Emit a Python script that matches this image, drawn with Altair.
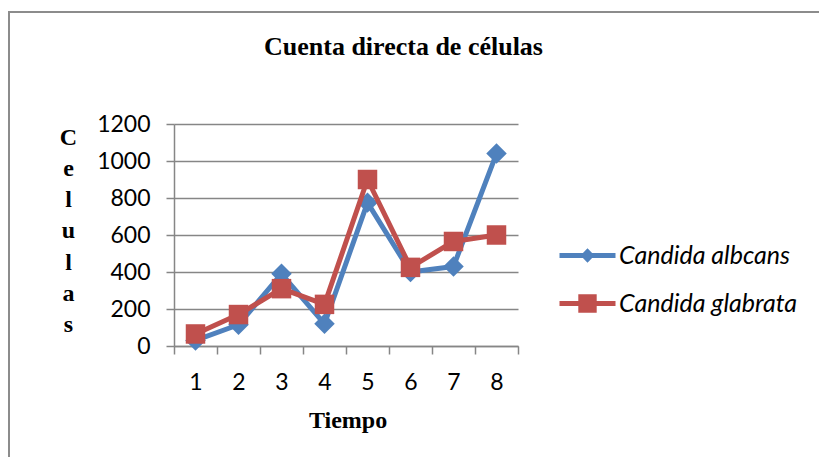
import altair as alt
import pandas as pd

# --- data -------------------------------------------------------------
tiempo = [1, 2, 3, 4, 5, 6, 7, 8]
candida_albicans = [30, 115, 390, 120, 775, 400, 430, 1040]
candida_glabrata = [65, 170, 310, 225, 900, 425, 565, 600]
series_names = ["Candida albcans", "Candida glabrata"]
y_ticks = [0, 200, 400, 600, 800, 1000, 1200]

# --- styling ----------------------------------------------------------
series_colors = ["#4F81BD", "#C0504D"]
series_markers = ["diamond", "square"]
marker_sizes = [420, 380]
# legend glyphs: a short line with the marker on top of it
legend_glyphs = [
    "M-2.8,-0.25L2.8,-0.25L2.8,0.25L-2.8,0.25Z M0,-0.72L0.7,0L0,0.72L-0.7,0Z",
    "M-2.8,-0.25L2.8,-0.25L2.8,0.25L-2.8,0.25Z M-0.92,-0.92L0.92,-0.92L0.92,0.92L-0.92,0.92Z",
]
GRID = "#868686"
LABEL_FONT = "Lato"
TITLE_FONT = "Liberation Serif"

df = pd.DataFrame({
    "Tiempo": tiempo * 2,
    "Celulas": candida_albicans + candida_glabrata,
    "Serie": [series_names[0]] * len(tiempo) + [series_names[1]] * len(tiempo),
})

x_enc = alt.X(
    "Tiempo:O",
    scale=alt.Scale(type="band", paddingInner=0, paddingOuter=0),
    axis=alt.Axis(
        title="Tiempo",
        labelAngle=0,
        tickBand="extent",
        grid=False,
        domainColor=GRID,
        domainWidth=1.5,
        tickColor=GRID,
        tickWidth=1.5,
        tickSize=8,
        labelFont=LABEL_FONT,
        labelFontSize=23,
        labelColor="black",
        labelBaseline="alphabetic",
        labelPadding=35,
        titleFont=TITLE_FONT,
        titleFontSize=24,
        titleFontWeight="bold",
        titleColor="black",
        titleBaseline="alphabetic",
        titleX=173.5,
        titleY=81,
    ),
)

y_enc = alt.Y(
    "Celulas:Q",
    scale=alt.Scale(domain=[0, 1200]),
    axis=alt.Axis(
        values=y_ticks,
        format="d",
        title=list("Celulas"),
        titleAngle=0,
        titleAlign="center",
        titleBaseline="alphabetic",
        titleX=-106,
        titleY=20,
        titleLineHeight=31.3,
        titleFont=TITLE_FONT,
        titleFontSize=24,
        titleFontWeight="bold",
        titleColor="black",
        grid=True,
        gridColor=GRID,
        gridWidth=1.5,
        domainColor=GRID,
        domainWidth=1.5,
        tickColor=GRID,
        tickWidth=1.5,
        tickSize=8,
        labelFont=LABEL_FONT,
        labelFontSize=23,
        labelColor="black",
        labelPadding=16,
    ),
)

base = alt.Chart(df)

layers = []
for name, color, marker, msize in zip(series_names, series_colors, series_markers, marker_sizes):
    sub = base.transform_filter(alt.datum.Serie == name)
    layers.append(
        sub.mark_line(color=color, strokeWidth=5, strokeJoin="round", strokeCap="round")
        .encode(x=x_enc, y=y_enc)
    )
    layers.append(
        sub.mark_point(shape=marker, size=msize, filled=True, color=color, opacity=1, strokeWidth=0)
        .encode(x=x_enc, y=y_enc)
    )

legend = alt.Legend(
    title=None,
    orient="none",
    legendX=401,
    legendY=119,
    padding=0,
    symbolSize=400,
    symbolStrokeWidth=0,
    symbolOpacity=1,
    labelFont=LABEL_FONT,
    labelFontStyle="italic",
    labelFontSize=25,
    labelColor="black",
    labelOffset=19,
    labelLimit=400,
    rowPadding=22,
)

legend_layer = base.transform_filter("false").mark_point(filled=True, opacity=1).encode(
    x=x_enc,
    y=y_enc,
    color=alt.Color("Serie:N", scale=alt.Scale(domain=series_names, range=series_colors), legend=legend),
    shape=alt.Shape("Serie:N", scale=alt.Scale(domain=series_names, range=legend_glyphs), legend=legend),
)

# outer chart frame
frame = alt.Chart(pd.DataFrame({"marco": [0]})).mark_rect(
    fillOpacity=0, stroke="#8c8c8c", strokeWidth=2
).encode(
    x=alt.value(-165), x2=alt.value(700), y=alt.value(-112), y2=alt.value(500)
)

chart = alt.layer(frame, *layers, legend_layer).properties(
    width=344,
    height=222,
    autosize=alt.AutoSizeParams(type="none"),
    padding={"left": 174, "top": 124, "right": 301, "bottom": 111},
    background="white",
    title=alt.TitleParams(
        "Cuenta directa de células",
        font=TITLE_FONT,
        fontSize=26,
        fontWeight="bold",
        color="black",
        anchor="middle",
        frame="group",
        dx=57.5,
        offset=-48.5,
    ),
).configure_view(stroke="transparent")

chart.save("out.html", embed_options={"renderer": "svg", "actions": False})
